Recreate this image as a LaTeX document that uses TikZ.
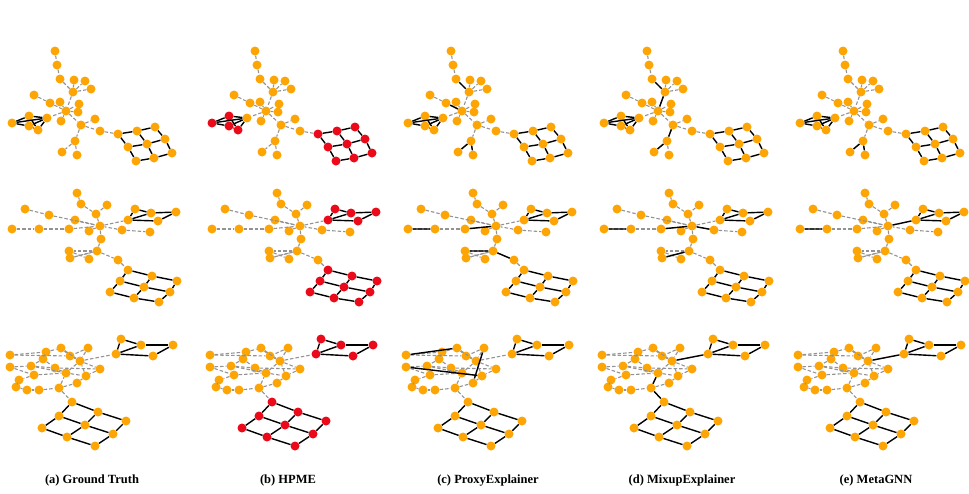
\documentclass[tikz,border=0pt]{standalone}
\usepackage{fontspec}
\setmainfont{Liberation Serif}
\definecolor{nodeor}{RGB}{252,165,5}
\definecolor{nodered}{RGB}{235,10,25}
\begin{document}
\begin{tikzpicture}[x=1pt,y=-1pt,
 v/.style={circle,fill=nodeor,inner sep=0,minimum size=9pt},
 vr/.style={circle,fill=nodered,inner sep=0,minimum size=9pt},
 de/.style={gray!85,line width=1.1pt,dash pattern=on 3.5pt off 2pt},
 me/.style={black,line width=1.4pt},
 captext/.style={font=\bfseries\fontsize{12.5}{14}\selectfont,anchor=base}]
\useasboundingbox (0,0) rectangle (969,493);
% ---------- row 1 ----------
\newcommand\rowOne[2]{%
\foreach \n/\x/\y in {t1/55/51,t2/57/65,t3/60/79,h1/73/92,h1a/74/80,h1b/85/81,h1c/91/89,c/66/111,c1/34/95,c2/50/103,c3/60/102,c4/79/104,c5/78/112,c6/61/121,n2/47/118,n3/81/125,n3a/95/119,n3b/100/131,n3c/75/141,n3d/62/152,n3e/77/155}
  \node[v] (#1\n) at (\x,\y) {};
\foreach \n/\x/\y in {T1/29/116,T2/12/123,T3/29/126,T4/38/130,g11/118/134,g12/137/131,g13/155/127,g21/128/147,g22/147/144,g23/165/139,g31/136/161,g32/154/158,g33/172/153}
  \node[#2] (#1\n) at (\x,\y) {};
\foreach \a/\b in {t1/t2,t2/t3,t3/h1,h1/h1a,h1/h1b,h1/h1c,h1/c,c1/c2,c2/c,c/c3,c/c4,c/c5,c/c6,c/n2,c/n3,n3/n3a,n3/n3b,n3/n3c,n3c/n3d,n3c/n3e,n3b/g11}
  \draw[de] (#1\a)--(#1\b);
\foreach \a/\b in {T1/T2,T2/T3,T1/n2,T3/n2,T1/T4,T3/T4,T2/n2,T4/n2,g11/g12,g12/g13,g21/g22,g22/g23,g31/g32,g32/g33,g11/g21,g21/g31,g12/g22,g22/g32,g13/g23,g23/g33}
  \draw[me] (#1\a)--(#1\b);
}
% ---------- row 2 ----------
\newcommand\rowTwo[2]{%
\foreach \n/\x/\y in {u1/77/193,u2/81/204,u3/107/205,u4/96/214,h/100/226,l1/25/209,l2/49/215,l3/75/220,l4/12/229,l5/39/229,l6/69/229,l7/89/231,r1/122/230,r2/150/232,m1/101/239,m2/97/251,m3/69/251,m4/70/258,m5/89/259,m6/118/260}
  \node[v] (#1\n) at (\x,\y) {};
\foreach \n/\x/\y in {A/128/220,B/135/209,C/151/213,D/176/212,E/158/221,g11/128/270,g12/152/276,g13/177/281,g21/120/281,g22/144/287,g23/170/292,g31/110/292,g32/134/298,g33/159/302}
  \node[#2] (#1\n) at (\x,\y) {};
\foreach \a/\b in {u1/u2,u2/u4,u3/u4,u4/h,l1/l2,l2/h,l3/h,l4/l5,l5/l6,l6/h,l7/h,r1/h,r1/r2,h/A,h/m1,m1/m2,m2/m3,m2/m4,m3/m5,m4/m2,m2/m6,m6/g11}
  \draw[de] (#1\a)--(#1\b);
\foreach \a/\b in {A/B,B/C,C/D,D/E,E/A,A/C,g11/g12,g12/g13,g21/g22,g22/g23,g31/g32,g32/g33,g11/g21,g21/g31,g12/g22,g22/g32,g13/g23,g23/g33}
  \draw[me] (#1\a)--(#1\b);
}
% ---------- row 3 ----------
\newcommand\rowThree[2]{%
\foreach \n/\x/\y in {k1/10/355,k2/46/352,k3/61/348,k4/88/348,k5/70/356,k6/43/359,k7/80/361,k8/10/367,k9/31/366,k10/55/368,k11/100/369,k12/34/375,k13/66/373,k14/86/376,k15/19/380,k16/16/387,k17/27/390,k18/39/390,k19/59/388,k20/77/383}
  \node[v] (#1\n) at (\x,\y) {};
\foreach \n/\x/\y in {lk/116/354,M1/121/339,M2/141/345,M3/173/345,M4/153/356,g11/72/402,g12/98/412,g13/126/421,g21/59/416,g22/85/425,g23/113/434,g31/42/428,g32/67/437,g33/95/446}
  \node[#2] (#1\n) at (\x,\y) {};
\foreach \a/\b in {k1/k2,k1/k5,k2/k3,k2/k6,k3/k5,k4/k5,k4/k7,k5/k7,k6/k9,k7/k13,k7/k11,k8/k9,k8/k12,k9/k10,k10/k13,k9/k13,k12/k13,k10/k11,k13/k14,k12/k15,k15/k16,k16/k17,k17/k18,k18/k19,k19/k13,k19/k20,k20/k14,k14/k7,k6/k10,k3/k7,k11/k14,k7/lk,k19/g11}
  \draw[de] (#1\a)--(#1\b);
\foreach \a/\b in {lk/M1,M1/M2,lk/M2,M2/M3,M3/M4,lk/M4,g11/g12,g12/g13,g21/g22,g22/g23,g31/g32,g32/g33,g11/g21,g21/g31,g12/g22,g22/g32,g13/g23,g23/g33}
  \draw[me] (#1\a)--(#1\b);
}
% panels
\begin{scope}\rowOne{a}{v}\rowTwo{aa}{v}\rowThree{aaa}{v}\end{scope}
\begin{scope}[xshift=200]\rowOne{b}{vr}\rowTwo{bb}{vr}\rowThree{bbb}{vr}\end{scope}
\begin{scope}[xshift=396]\rowOne{c}{v}\rowTwo{cc}{v}\rowThree{ccc}{v}
 \draw[me] (ct3)--(ch1) (cc)--(cc2) (cn3c)--(cn3d) (cn3c)--(cn3e) (ccl4)--(ccl5) (cch)--(ccl6) (ccm2)--(ccm3) (ccm2)--(ccm6) (ccck1)--(ccck3) (ccck4)--(ccck20) (ccck8)--(ccck14);
\end{scope}
\begin{scope}[xshift=592]\rowOne{d}{v}\rowTwo{dd}{v}\rowThree{ddd}{v}
 \draw[me] (dt3)--(dh1) (dh1)--(dc) (dn3)--(dn3c) (dn3c)--(dn3d) (ddl4)--(ddl5) (ddl6)--(ddh) (ddh)--(ddr1) (ddm2)--(ddm4) (dddk7)--(dddlk) (dddk13)--(dddk19) (dddk19)--(dddg11);
\end{scope}
\begin{scope}[xshift=788]\rowOne{e}{v}\rowTwo{ee}{v}\rowThree{eee}{v}
 \draw[me] (en3c)--(en3d) (en3c)--(en3e) (eel4)--(eel5) (eeh)--(eeA) (eeek7)--(eeelk);
\end{scope}
\node[captext] (lbla) at (92,483) {(a) Ground Truth};
\node[captext] (lblb) at (288,483) {(b) HPME};
\node[captext] (lblc) at (488,483) {(c) ProxyExplainer};
\node[captext] (lbld) at (682,483) {(d) MixupExplainer};
\node[captext] (lble) at (876,483) {(e) MetaGNN};
\end{tikzpicture}
\end{document}
